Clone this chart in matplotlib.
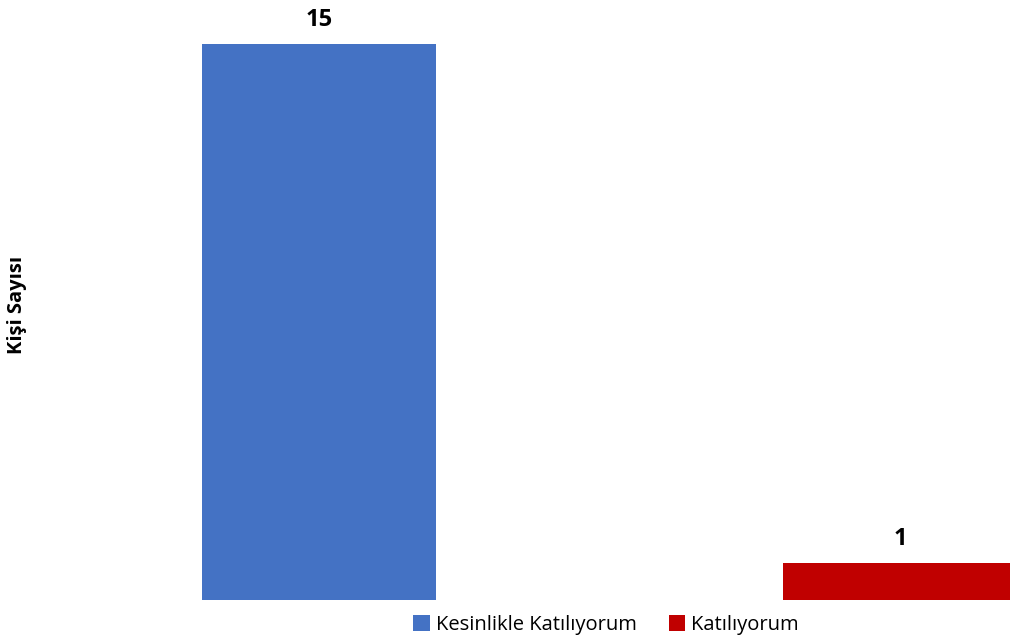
import matplotlib.pyplot as plt
from matplotlib.patches import Patch

plt.rcParams['font.family'] = ['Open Sans', 'DejaVu Sans']

# Veriler
categories = ['Kesinlikle Katılıyorum', 'Katılıyorum']
counts = [15, 1]
colors = ['#4472C4', '#C00000']
positions = [0, 1]

fig = plt.figure(figsize=(10.1, 6.43), dpi=100)
ax = fig.add_axes([0, 43 / 643, 1, 600 / 643])

bars = ax.bar(positions, counts, width=0.403, color=colors)

# Değer etiketleri
for b, v in zip(bars, counts):
    ax.annotate(str(v), (b.get_x() + b.get_width() / 2, v),
                xytext=(0, 13), textcoords='offset points',
                ha='center', va='baseline', fontsize=17, fontweight='bold')

ax.set_xlim(-0.549, 1.189)
ax.set_ylim(0, 16.19)
ax.axis('off')

fig.text(17 / 1010, 1 - 305 / 643, 'Kişi Sayısı', rotation=90,
         ha='center', va='center', fontsize=14.5, fontweight='bold')

handles = [Patch(facecolor=c, label=l) for c, l in zip(colors, categories)]
fig.legend(handles=handles, loc='center', bbox_to_anchor=(606 / 1010, 1 - 625 / 643),
           ncol=2, frameon=False, fontsize=14.5, handlelength=0.8, handleheight=0.8,
           handletextpad=0.3, columnspacing=1.6, borderpad=0, borderaxespad=0)

fig.savefig('out.png', dpi=100)
